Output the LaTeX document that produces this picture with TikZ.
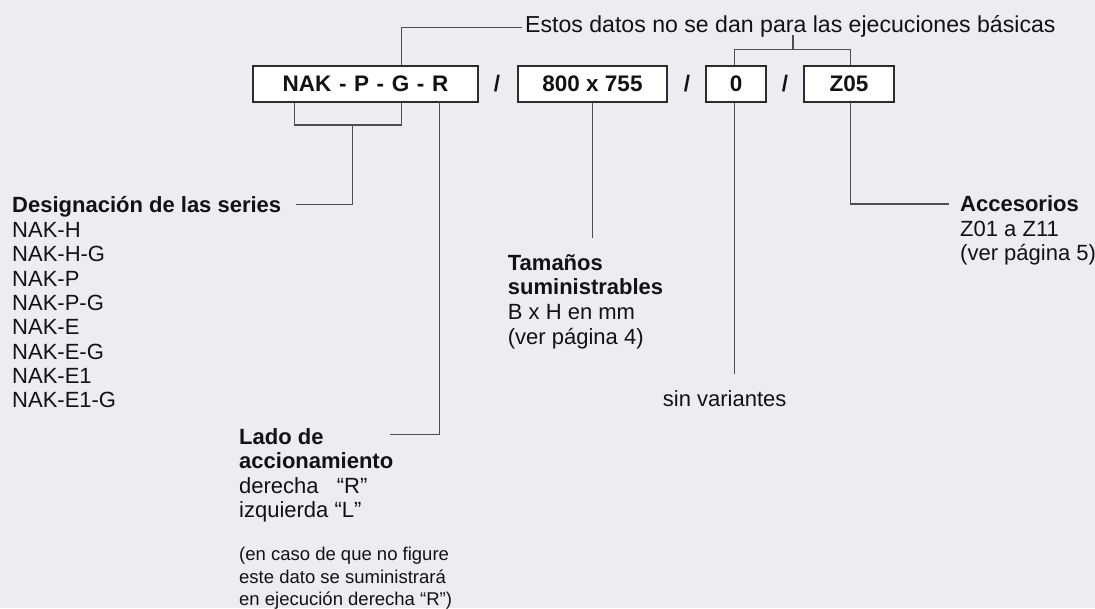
\documentclass[tikz,border=0pt]{standalone}
\usepackage{fontspec}
\setmainfont{Liberation Sans}
\definecolor{bg}{RGB}{238,235,242}
\definecolor{ln}{RGB}{78,78,80}
\definecolor{bx}{RGB}{45,45,48}
\definecolor{tx}{RGB}{18,18,20}
\newcommand{\bsp}{\hspace{7.6pt}}
\begin{document}
\begin{tikzpicture}[x=1pt,y=-1pt,
  box/.style={draw=bx, fill=white, line width=1.3pt, minimum height=36pt, inner sep=0pt,
    font=\fontsize{22.5}{24}\selectfont\bfseries, text=tx},
  slash/.style={inner sep=0pt, font=\fontsize{22.5}{24}\selectfont\bfseries, text=tx},
  conn/.style={draw=ln, line width=1.3pt},
  lbl/.style={anchor=north west, inner sep=0pt, align=left, text=tx},
  one/.style={anchor=base west, inner sep=0pt, text=tx, font=\fontsize{22}{24.5}\selectfont}
]
\fill[bg] (0,0) rectangle (1095,608);
\useasboundingbox (0,0) rectangle (1095,608);

% boxes
\node[box, minimum width=225pt] (b1) at (365.5,84) {NAK\bsp-\bsp P\bsp-\bsp G\bsp-\bsp R};
\node[box, minimum width=149pt] (b2) at (592.5,84) {800 x 755};
\node[box, minimum width=60pt]  (b3) at (736,84) {0};
\node[box, minimum width=90pt]  (b4) at (849,84) {Z05};
\node[slash] (s1) at (497,84) {/};
\node[slash] (s2) at (687,84) {/};
\node[slash] (s3) at (785,84) {/};

% texts
\node[one, font=\fontsize{23.1}{24.5}\selectfont] (note) at (525,32.5) {Estos datos no se dan para las ejecuciones básicas};
\node[one, font=\fontsize{22}{24.5}\selectfont\bfseries] (des) at (12,212) {Designación de las series};
\node[lbl, font=\fontsize{22}{24.35}\selectfont] (deslist) at (12,220.25)
  {\strut NAK-H\\\strut NAK-H-G\\\strut NAK-P\\\strut NAK-P-G\\\strut NAK-E\\\strut NAK-E-G\\\strut NAK-E1\\\strut NAK-E1-G};
\node[lbl, font=\fontsize{22}{24.67}\selectfont] (tam) at (507.7,252.7)
  {\strut\textbf{Tamaños}\\\strut\textbf{suministrables}\\\strut B x H en mm\\\strut (ver página 4)};
\node[one] (sin) at (662.7,406) {sin variantes};
\node[lbl, font=\fontsize{22}{24.85}\selectfont] (acc) at (960,193.6)
  {\strut\textbf{Accesorios}\\\strut Z01 a Z11\\\strut (ver página 5)};
\node[lbl, font=\fontsize{22}{24.57}\selectfont] (lado) at (239,426.8)
  {\strut\textbf{Lado de}\\\strut\textbf{accionamiento}\\\strut derecha\hspace{12pt} “R”\\\strut izquierda “L”};
\node[lbl, font=\fontsize{18.5}{22.2}\selectfont] (ladonote) at (239,545.2)
  {\strut (en caso de que no figure\\\strut este dato se suministrará\\\strut en ejecución derecha “R”)};

% connector coordinates
\coordinate (topturn) at (401.3,27.3);
\coordinate (noteend) at (521.7,27.3);
\coordinate (br) at (793,49.7);
\coordinate (brtop) at (793,35);
\coordinate (bk) at (352.3,125);
\coordinate (desend) at (295.7,204.3);
\coordinate (rline) at (439.3,102);
\coordinate (ladoend) at (390,434.6);
\coordinate (tamend) at (592.3,238.3);
\coordinate (sinend) at (734.5,374.3);
\coordinate (acc4) at (850.7,102);
\coordinate (accend) at (949,204);

% connectors
\draw[conn] (b1.north -| topturn) -- (topturn) -- (noteend);
\draw[conn] (brtop) -- (br);
\draw[conn] (b3.north -| sinend) |- (br) -| (b4.north -| acc4);
\draw[conn] ([xshift=42.3pt]b1.south west) |- (bk) -| (b1.south -| topturn);
\draw[conn] (bk) |- (desend);
\draw[conn] (rline) |- (ladoend);
\draw[conn] (b2.south -| tamend) -- (tamend);
\draw[conn] (b3.south -| sinend) -- (sinend);
\draw[conn] (acc4) |- (accend);
\end{tikzpicture}
\end{document}
